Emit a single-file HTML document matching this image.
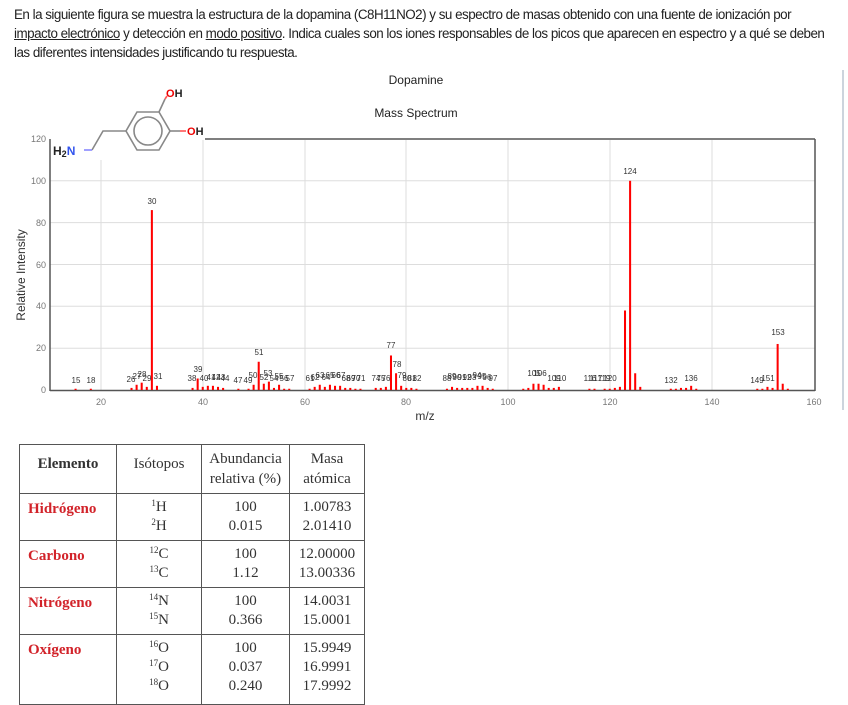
<!DOCTYPE html>
<html><head><meta charset="utf-8"><style>
body{margin:0;width:848px;height:693px;overflow:hidden;background:#fff;font-family:"Liberation Sans",sans-serif;position:relative}
.p{position:absolute;left:14px;top:5px;width:834px;font-size:13.4px;line-height:19px;color:#222;letter-spacing:-0.5px;white-space:nowrap}
.p u{text-decoration:underline}
table{position:absolute;left:19px;top:444px;border-collapse:collapse;font-family:"Liberation Serif",serif;font-size:15px;color:#333}
td{border:1.5px solid #555;text-align:center;vertical-align:top;padding:4px 2px;line-height:22px}
td.e{color:#d2232a;font-weight:bold;text-align:left;padding-left:8px}
sup{font-size:9px;vertical-align:5px;line-height:0}
</style></head><body>
<div class="p">En la siguiente figura se muestra la estructura de la dopamina (C8H11NO2) y su espectro de masas obtenido con una fuente de ionización por<br><u>impacto electrónico</u> y detección en <u>modo positivo</u>. Indica cuales son los iones responsables de los picos que aparecen en espectro y a qué se deben<br>las diferentes intensidades justificando tu respuesta.</div>
<svg width="848" height="420" style="position:absolute;left:0;top:0" font-family="Liberation Sans,sans-serif">
<line x1="843" y1="70" x2="843" y2="410" stroke="#9ab" stroke-width="1"/>
<text x="416" y="84" font-size="12" text-anchor="middle" fill="#222">Dopamine</text>
<text x="416" y="117" font-size="12" text-anchor="middle" fill="#222">Mass Spectrum</text>
<g stroke="#ddd" stroke-width="1">
<line x1="101" y1="160" x2="101" y2="390"/><line x1="203" y1="140" x2="203" y2="390"/><line x1="305" y1="140" x2="305" y2="390"/><line x1="406" y1="140" x2="406" y2="390"/><line x1="508" y1="140" x2="508" y2="390"/><line x1="610" y1="140" x2="610" y2="390"/><line x1="712" y1="140" x2="712" y2="390"/>
<line x1="50" y1="348.2" x2="815" y2="348.2"/><line x1="50" y1="306.3" x2="815" y2="306.3"/><line x1="50" y1="264.5" x2="815" y2="264.5"/><line x1="50" y1="222.6" x2="815" y2="222.6"/><line x1="50" y1="180.8" x2="815" y2="180.8"/>
</g>
<g stroke="#555" stroke-width="1.5" fill="none">
<line x1="50" y1="139" x2="50" y2="391"/><line x1="50" y1="390.5" x2="815" y2="390.5"/><line x1="205" y1="139" x2="815" y2="139"/><line x1="815" y1="139" x2="815" y2="391"/>
</g>
<g font-size="9" fill="#777" text-anchor="end">
<text x="46" y="393">0</text><text x="46" y="351">20</text><text x="46" y="309">40</text><text x="46" y="268">60</text><text x="46" y="226">80</text><text x="46" y="184">100</text><text x="46" y="142">120</text>
</g>
<g font-size="9" fill="#777" text-anchor="middle">
<text x="101" y="405">20</text><text x="203" y="405">40</text><text x="305" y="405">60</text><text x="406" y="405">80</text><text x="508" y="405">100</text><text x="610" y="405">120</text><text x="712" y="405">140</text><text x="814" y="405">160</text>
</g>
<text x="25" y="275" font-size="12" fill="#333" text-anchor="middle" transform="rotate(-90 25 275)">Relative Intensity</text>
<g transform="translate(-0.75,390) scale(5.0875,-2.092)" fill="#f00">
<rect x="14.8" width="0.4" height="0.6"/><rect x="17.8" width="0.4" height="0.6"/>
<rect x="25.8" width="0.4" height="1"/><rect x="26.8" width="0.4" height="2.5"/><rect x="27.8" width="0.4" height="3.5"/><rect x="28.8" width="0.4" height="1.5"/><rect x="29.8" width="0.4" height="86"/><rect x="30.8" width="0.4" height="2"/>
<rect x="37.8" width="0.4" height="1"/><rect x="38.8" width="0.4" height="5.5"/><rect x="39.8" width="0.4" height="1.5"/><rect x="40.8" width="0.4" height="2"/><rect x="41.8" width="0.4" height="2"/><rect x="42.8" width="0.4" height="1.5"/><rect x="43.8" width="0.4" height="1"/>
<rect x="46.8" width="0.4" height="0.6"/><rect x="48.8" width="0.4" height="0.6"/><rect x="49.8" width="0.4" height="2.5"/><rect x="50.8" width="0.4" height="13.5"/><rect x="51.8" width="0.4" height="3"/><rect x="52.8" width="0.4" height="4"/><rect x="53.8" width="0.4" height="1"/><rect x="54.8" width="0.4" height="2.5"/><rect x="55.8" width="0.4" height="0.6"/><rect x="56.8" width="0.4" height="0.6"/>
<rect x="60.8" width="0.4" height="0.6"/><rect x="61.8" width="0.4" height="1.5"/><rect x="62.8" width="0.4" height="2.5"/><rect x="63.8" width="0.4" height="1.5"/><rect x="64.8" width="0.4" height="2.5"/><rect x="65.8" width="0.4" height="2"/><rect x="66.8" width="0.4" height="2"/><rect x="67.8" width="0.4" height="1"/><rect x="68.8" width="0.4" height="1"/><rect x="69.8" width="0.4" height="0.6"/><rect x="70.8" width="0.4" height="0.6"/>
<rect x="73.8" width="0.4" height="1"/><rect x="74.8" width="0.4" height="1"/><rect x="75.8" width="0.4" height="1.5"/><rect x="76.8" width="0.4" height="16.5"/><rect x="77.8" width="0.4" height="8"/><rect x="78.8" width="0.4" height="2"/><rect x="79.8" width="0.4" height="1"/><rect x="80.8" width="0.4" height="1"/><rect x="81.8" width="0.4" height="0.6"/>
<rect x="87.8" width="0.4" height="0.6"/><rect x="88.8" width="0.4" height="1.5"/><rect x="89.8" width="0.4" height="1"/><rect x="90.8" width="0.4" height="1"/><rect x="91.8" width="0.4" height="1"/><rect x="92.8" width="0.4" height="1"/><rect x="93.8" width="0.4" height="2"/><rect x="94.8" width="0.4" height="2"/><rect x="95.8" width="0.4" height="1"/><rect x="96.8" width="0.4" height="0.6"/>
<rect x="102.8" width="0.4" height="0.6"/><rect x="103.8" width="0.4" height="1"/><rect x="104.8" width="0.4" height="3"/><rect x="105.8" width="0.4" height="3"/><rect x="106.8" width="0.4" height="2.5"/><rect x="107.8" width="0.4" height="1"/><rect x="108.8" width="0.4" height="1"/><rect x="109.8" width="0.4" height="1.5"/>
<rect x="115.8" width="0.4" height="0.6"/><rect x="116.8" width="0.4" height="0.6"/><rect x="118.8" width="0.4" height="0.6"/><rect x="119.8" width="0.4" height="0.6"/><rect x="120.8" width="0.4" height="1"/><rect x="121.8" width="0.4" height="1.5"/><rect x="122.8" width="0.4" height="38"/><rect x="123.8" width="0.4" height="100"/><rect x="124.8" width="0.4" height="8"/><rect x="125.8" width="0.4" height="1.5"/>
<rect x="131.8" width="0.4" height="0.6"/><rect x="132.8" width="0.4" height="0.6"/><rect x="133.8" width="0.4" height="1"/><rect x="134.8" width="0.4" height="1"/><rect x="135.8" width="0.4" height="2"/><rect x="136.8" width="0.4" height="0.6"/>
<rect x="148.8" width="0.4" height="0.6"/><rect x="149.8" width="0.4" height="0.6"/><rect x="150.8" width="0.4" height="1.5"/><rect x="151.8" width="0.4" height="1"/><rect x="152.8" width="0.4" height="22"/><rect x="153.8" width="0.4" height="3"/><rect x="154.8" width="0.4" height="0.6"/>
</g>
<g font-size="8" fill="#333" text-anchor="middle">
<text x="76" y="383">15</text><text x="91" y="383">18</text><text x="131" y="382">26</text><text x="137" y="379">27</text><text x="142" y="377">28</text><text x="147" y="381">29</text><text x="152" y="204">30</text><text x="158" y="379">31</text>
<text x="192" y="381">38</text><text x="198" y="372">39</text><text x="204" y="381">40</text><text x="211" y="380">41</text><text x="216" y="380">42</text><text x="221" y="380">43</text><text x="225" y="381">44</text>
<text x="238" y="383">47</text><text x="248" y="383">49</text><text x="253" y="378">50</text><text x="259" y="355">51</text><text x="264" y="380">52</text><text x="268" y="376">53</text><text x="274" y="381">54</text><text x="279" y="379">55</text><text x="284" y="381">56</text><text x="290" y="381">57</text>
<text x="310" y="381">61</text><text x="315" y="380">62</text><text x="320" y="378">63</text><text x="326" y="380">64</text><text x="330" y="378">65</text><text x="336" y="378">66</text><text x="341" y="378">67</text><text x="346" y="381">68</text><text x="351" y="381">69</text><text x="356" y="381">70</text><text x="361" y="381">71</text>
<text x="376" y="381">74</text><text x="381" y="381">75</text><text x="386" y="381">76</text><text x="391" y="348">77</text><text x="397" y="367">78</text><text x="402" y="378">79</text><text x="407" y="381">80</text><text x="412" y="381">81</text><text x="417" y="381">82</text>
<text x="447" y="381">88</text><text x="452" y="379">89</text><text x="457" y="380">90</text><text x="462" y="380">91</text><text x="467" y="380">92</text><text x="472" y="380">93</text><text x="477" y="378">94</text><text x="482" y="379">95</text><text x="487" y="380">96</text><text x="493" y="381">97</text>
<text x="534" y="376">105</text><text x="540" y="376">106</text><text x="554" y="381">109</text><text x="560" y="381">110</text>
<text x="590" y="381">116</text><text x="596" y="381">117</text><text x="604" y="381">119</text><text x="610" y="381">120</text><text x="630" y="174">124</text>
<text x="671" y="383">132</text><text x="691" y="381">136</text><text x="757" y="383">149</text><text x="768" y="381">151</text><text x="778" y="335">153</text>
</g>
<text x="425" y="420" font-size="12" fill="#333" text-anchor="middle">m/z</text>
<g stroke="#888" stroke-width="1.6" fill="none">
<polygon points="126,131 137,112 159,112 170,131 159,150 137,150"/>
<circle cx="148" cy="131" r="14"/>
<polyline points="126,131 103,131 92,150"/>
<line x1="159" y1="112" x2="165" y2="99"/>
<line x1="170" y1="131" x2="180" y2="131"/>
</g>
<line x1="92" y1="150" x2="84" y2="150" stroke="#88f" stroke-width="1.6"/>
<line x1="165" y1="99" x2="167" y2="96" stroke="#f55" stroke-width="1.6"/>
<line x1="180" y1="131" x2="186" y2="131" stroke="#f55" stroke-width="1.6"/>
<text x="53" y="155" font-size="12" font-weight="bold" fill="#222">H<tspan font-size="9" dy="2">2</tspan><tspan fill="#3355ee" dy="-2">N</tspan></text>
<text x="166" y="97" font-size="11" font-weight="bold"><tspan fill="#e00">O</tspan><tspan fill="#222">H</tspan></text>
<text x="187" y="135" font-size="11" font-weight="bold"><tspan fill="#e00">O</tspan><tspan fill="#222">H</tspan></text>
</svg>
<table>
<tr style="height:49px"><td style="width:92px;font-weight:bold;padding-top:8px">Elemento</td><td style="width:80px;padding-top:8px">Isótopos</td><td style="width:83px;line-height:20px">Abundancia<br>relativa (%)</td><td style="width:70px;line-height:20px">Masa<br>atómica</td></tr>
<tr style="height:47px"><td class="e">Hidrógeno</td><td style="line-height:19px"><sup>1</sup>H<br><sup>2</sup>H</td><td style="line-height:19px">100<br>0.015</td><td style="line-height:19px">1.00783<br>2.01410</td></tr>
<tr style="height:47px"><td class="e">Carbono</td><td style="line-height:19px"><sup>12</sup>C<br><sup>13</sup>C</td><td style="line-height:19px">100<br>1.12</td><td style="line-height:19px">12.00000<br>13.00336</td></tr>
<tr style="height:47px"><td class="e">Nitrógeno</td><td style="line-height:19px"><sup>14</sup>N<br><sup>15</sup>N</td><td style="line-height:19px">100<br>0.366</td><td style="line-height:19px">14.0031<br>15.0001</td></tr>
<tr style="height:70px"><td class="e">Oxígeno</td><td style="line-height:19px"><sup>16</sup>O<br><sup>17</sup>O<br><sup>18</sup>O</td><td style="line-height:19px">100<br>0.037<br>0.240</td><td style="line-height:19px">15.9949<br>16.9991<br>17.9992</td></tr>
</table>
</body></html>
